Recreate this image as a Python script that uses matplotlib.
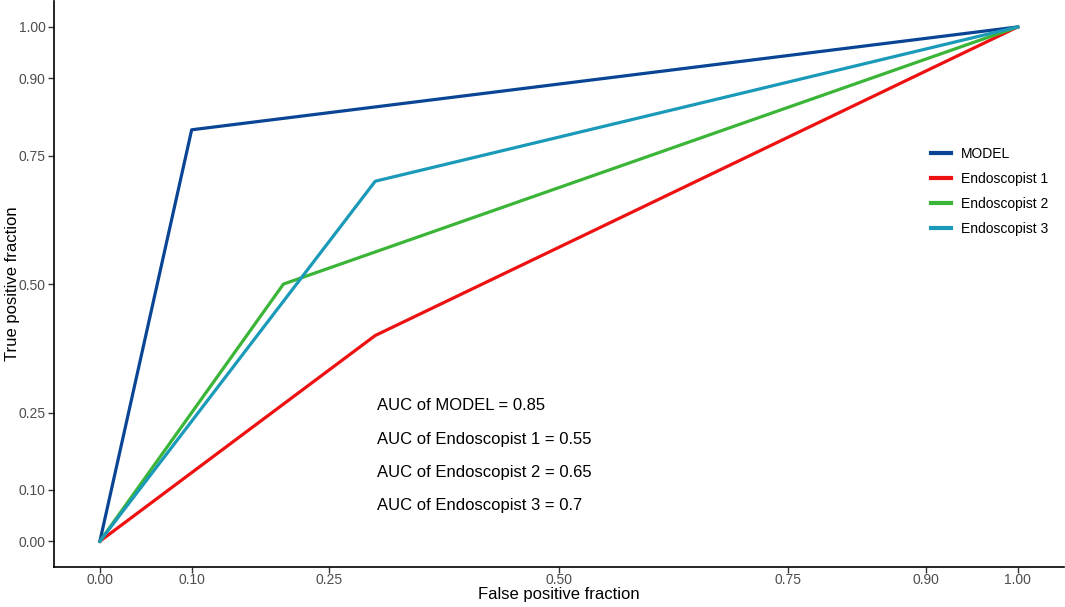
import matplotlib.pyplot as plt

plt.rcParams['font.family'] = ['Liberation Sans', 'DejaVu Sans']

# ROC points
names = ['MODEL', 'Endoscopist 1', 'Endoscopist 2', 'Endoscopist 3']
fpf = [[0, 0.10, 1], [0, 0.30, 1], [0, 0.20, 1], [0, 0.30, 1]]
tpf = [[0, 0.80, 1], [0, 0.40, 1], [0, 0.50, 1], [0, 0.70, 1]]
aucs = [0.85, 0.55, 0.65, 0.7]
colors = ['#0A4595', '#EE1111', '#3BB537', '#1A9AB8']
ticks = [0, 0.10, 0.25, 0.50, 0.75, 0.90, 1.00]

fig = plt.figure(figsize=(10.65, 6.07), dpi=100)
ax = fig.add_axes([0.0507, 0.066, 0.948, 0.932])

for n, x, y, c in zip(names, fpf, tpf, colors):
    ax.plot(x, y, color=c, lw=2.3, label=n, solid_joinstyle='round', zorder=2)

for i, (n, a) in enumerate(zip(names, aucs)):
    ax.text(0.302, 0.263 - i * 0.0645, 'AUC of ' + n + ' = ' + str(a),
            fontsize=12, va='center', ha='left', color='black')

ax.set_xlim(-0.05, 1.05)
ax.set_ylim(-0.05, 1.05)
ax.set_xticks(ticks)
ax.set_yticks(ticks)
ax.set_xticklabels(['%.2f' % t for t in ticks])
ax.set_yticklabels(['%.2f' % t for t in ticks])
ax.tick_params(labelsize=10, labelcolor='#4D4D4D', color='#333333', length=4, width=1)
ax.tick_params(axis='x', pad=0.5)
ax.tick_params(axis='y', pad=2)
for s in ['top', 'right']:
    ax.spines[s].set_visible(False)
for s in ['left', 'bottom']:
    ax.spines[s].set_linewidth(1.2)

ax.set_xlabel('False positive fraction', fontsize=12)
ax.set_ylabel('True positive fraction', fontsize=12)
ax.xaxis.set_label_coords(0.5, -0.036)
ax.yaxis.set_label_coords(-0.034, 0.5)

leg = ax.legend(loc='upper left', bbox_to_anchor=(0.856, 0.765), frameon=False,
                fontsize=10, handlelength=1.45, labelspacing=0.8, handletextpad=0.75)
for h in leg.get_lines():
    h.set_linewidth(3)

fig.savefig('out.png', dpi=100)
